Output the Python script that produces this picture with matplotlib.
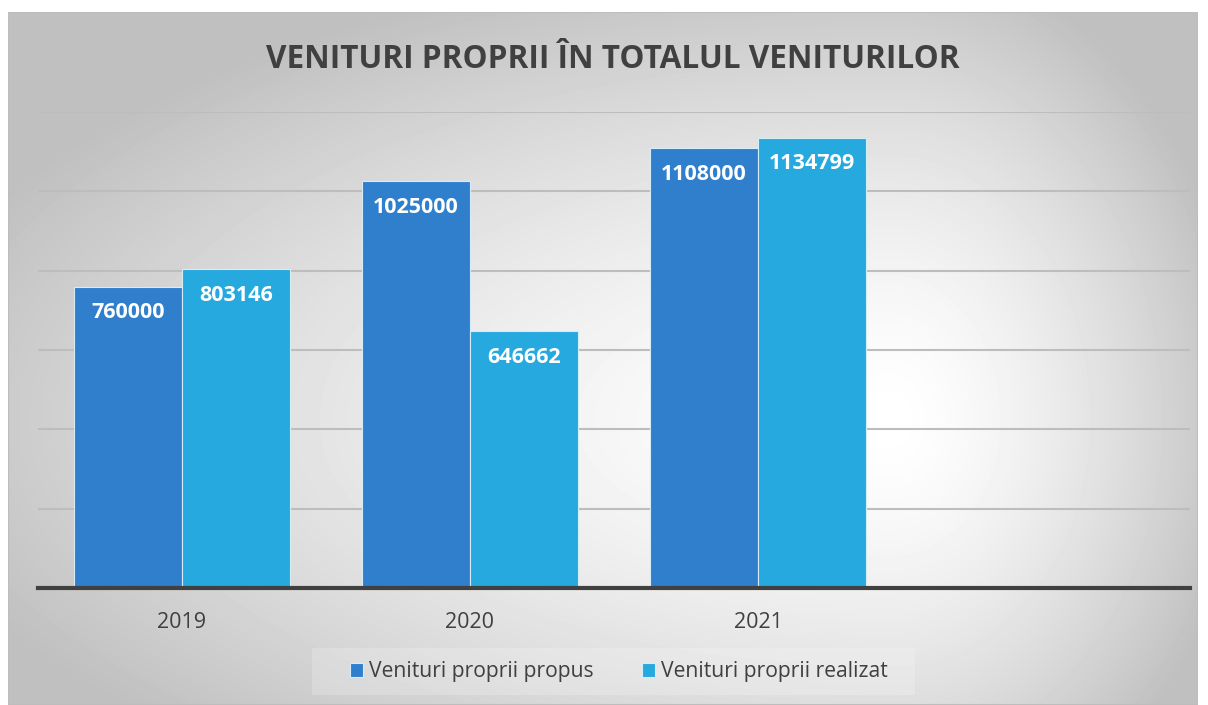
import numpy as np
import matplotlib.pyplot as plt
from matplotlib.patches import Rectangle

plt.rcParams['font.family'] = ['Open Sans', 'DejaVu Sans']

years = ['2019', '2020', '2021', '']
propus = [760000, 1025000, 1108000, None]
realizat = [803146, 646662, 1134799, None]
series_names = ['Venituri proprii propus', 'Venituri proprii realizat']
colors = ['#2f7fcc', '#25a9de']

W, H = 1208, 705
fig = plt.figure(figsize=(W / 100, H / 100), dpi=100)
fig.patch.set_facecolor('white')

# chart area background, gradient from white (centre right) to grey edges
x0, y0, x1, y1 = 8, 12, 1198, 705
bg = fig.add_axes([x0 / W, 1 - y1 / H, (x1 - x0) / W, (y1 - y0) / H])
yy, xx = np.mgrid[y0:y1, x0:x1].astype(float)
cx, cy = 890, 420
nx = np.where(xx < cx, (cx - xx) / (cx - x0), (xx - cx) / (x1 - cx))
ny = np.where(yy < cy, (cy - yy) / (cy - y0), (yy - cy) / (y1 - cy) * 0.75)
d = np.clip(np.sqrt(nx ** 2 + ny ** 2) / 1.15, 0, 1)
shade = 1.0 - 0.25 * d ** 1.5
bg.imshow(shade, cmap='gray', vmin=0, vmax=1, aspect='auto', interpolation='bilinear')
bg.set_axis_off()
bg.add_patch(Rectangle((x0 / W, 1 - y1 / H), (x1 - x0) / W, (y1 - y0) / H,
                       transform=fig.transFigure, fill=False, edgecolor='#bdbdbd', lw=1.5))
# faint legend panel
bg.add_patch(Rectangle((312 / W, 1 - 695 / H), 603 / W, 47 / H, transform=fig.transFigure,
                       facecolor='white', alpha=0.2, edgecolor='none'))

ax = fig.add_axes([38 / W, 1 - 588 / H, (1190 - 38) / W, (588 - 112) / H])
ax.patch.set_alpha(0)

x = np.arange(len(years))
w = 0.375
for i, (vals, c) in enumerate(zip([propus, realizat], colors)):
    xs = [xi for xi, v in zip(x, vals) if v is not None]
    vs = [v for v in vals if v is not None]
    offs = (i - 0.5) * w
    bars = ax.bar(np.array(xs) + offs, vs, width=w, color=c, edgecolor='#d6ecf8',
                  linewidth=0.8, label=series_names[i], zorder=3)
    for b, v in zip(bars, vs):
        ax.annotate(str(v), (b.get_x() + b.get_width() / 2, v), xytext=(0, -26),
                    textcoords='offset pixels', ha='center', va='center',
                    color='white', fontsize=15.5, fontweight='bold', zorder=4)

ax.set_xlim(-0.5, len(years) - 0.5)
ax.set_ylim(0, 1200000)
ax.set_yticks(np.arange(0, 1200001, 200000))
ax.yaxis.grid(True, color='#bdbdbd', lw=1.5, zorder=0)
ax.set_axisbelow(True)
ax.tick_params(axis='y', left=False, labelleft=False)
ax.set_xticks(x)
ax.set_xticklabels(years, fontsize=15.5, color='#404040')
ax.tick_params(axis='x', length=0, pad=17)
for s in ['top', 'right', 'left']:
    ax.spines[s].set_visible(False)
ax.spines['bottom'].set_color('#404040')
ax.spines['bottom'].set_linewidth(3)
ax.spines['bottom'].set_zorder(5)

fig.text(613 / W, 1 - 59 / H, 'VENITURI PROPRII ÎN TOTALUL VENITURILOR', ha='center', va='center',
         fontsize=22.7, fontweight='bold', color='#404040')

leg = ax.legend(loc='center', bbox_to_anchor=(619 / W, 1 - 672 / H), bbox_transform=fig.transFigure,
                ncol=2, frameon=False, fontsize=15.2, handlelength=0.6, handleheight=0.6,
                handletextpad=0.3, columnspacing=2.3)
for t in leg.get_texts():
    t.set_color('#404040')

fig.savefig('out.png', dpi=100)
